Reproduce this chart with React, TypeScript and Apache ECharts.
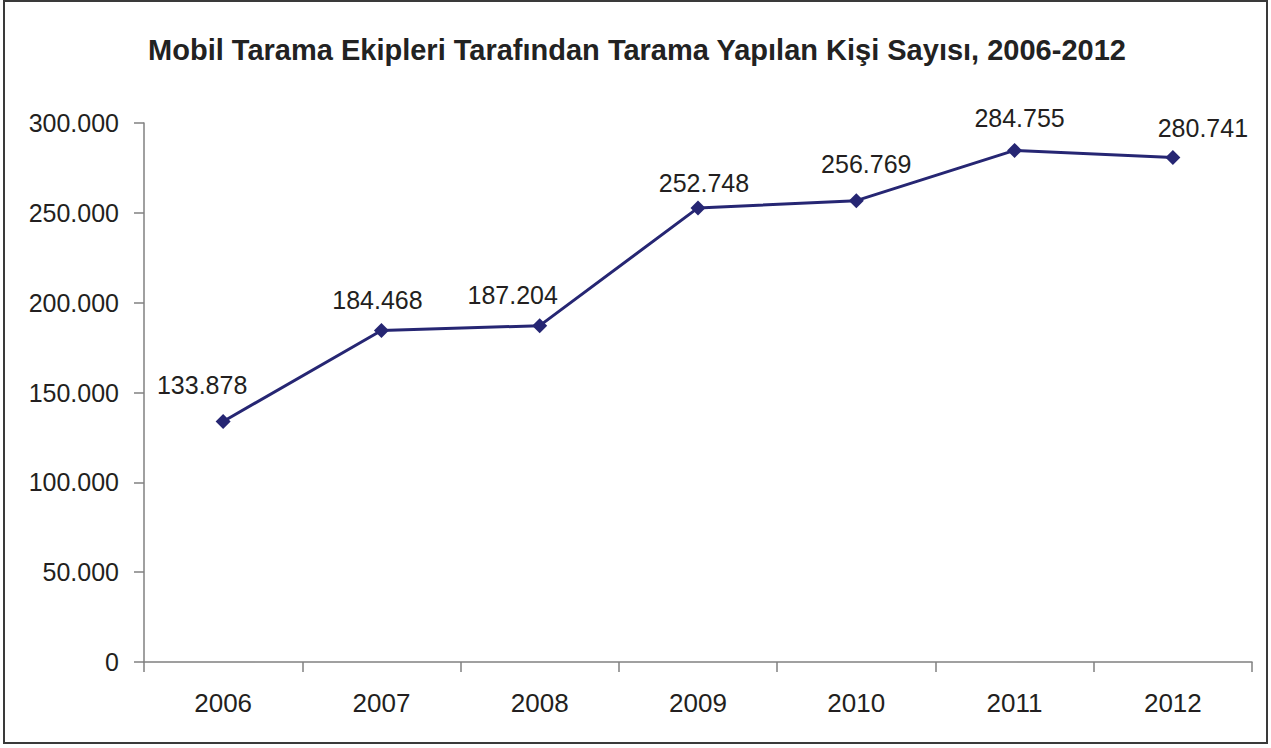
import React, { useEffect, useRef } from "react";
import * as echarts from "echarts";

const titleText = "Mobil Tarama Ekipleri Tarafından Tarama Yapılan Kişi Sayısı, 2006-2012";
const years = ["2006", "2007", "2008", "2009", "2010", "2011", "2012"];
const screened = [133878, 184468, 187204, 252748, 256769, 284755, 280741];
const labelOffsets = [[-21, -5], [-4, 0], [-27, 0], [6, 6], [10, -6], [5, -1], [30, 1]];

const fmt = (v: number) => {
  if (v === 0) return "0";
  return String(Math.round(v)).replace(/\B(?=(\d{3})+(?!\d))/g, ".");
};

export default function App() {
  const ref = useRef<HTMLDivElement>(null);
  useEffect(() => {
    const chart = echarts.init(ref.current!, null, { renderer: "svg" });
    chart.setOption({
      animation: false,
      backgroundColor: "#ffffff",
      textStyle: { fontFamily: "Liberation Sans, Arial, sans-serif" },
      title: {
        text: titleText,
        left: 632,
        textAlign: "center",
        top: 30,
        textStyle: { fontSize: 29, fontWeight: "bold", color: "#222222", fontFamily: "Liberation Sans, Arial, sans-serif" },
      },
      graphic: [
        {
          type: "rect",
          shape: { x: 4, y: 1, width: 1263, height: 742 },
          style: { fill: "none", stroke: "#3a3a3a", lineWidth: 2 },
          silent: true,
        },
      ],
      grid: { left: 144, right: 19, top: 123, bottom: 86, containLabel: false },
      xAxis: {
        type: "category",
        data: years,
        boundaryGap: true,
        axisLine: { lineStyle: { color: "#808080", width: 1.5 } },
        axisTick: { show: true, length: 10, inside: false, lineStyle: { color: "#808080", width: 1.5 } },
        axisLabel: { fontSize: 26, color: "#231f20", margin: 28 },
        splitLine: { show: false },
      },
      yAxis: {
        type: "value",
        min: 0,
        max: 300000,
        interval: 50000,
        axisLine: { show: true, lineStyle: { color: "#808080", width: 1.5 } },
        axisTick: { show: true, length: 10, lineStyle: { color: "#808080", width: 1.5 } },
        axisLabel: { fontSize: 25, color: "#231f20", margin: 25, formatter: (v: number) => fmt(v) },
        splitLine: { show: false },
      },
      series: [
        {
          type: "line",
          data: screened.map((v, i) => ({
            value: v,
            label: { offset: labelOffsets[i] },
          })),
          symbol: "diamond",
          symbolSize: 15,
          lineStyle: { color: "#262673", width: 3 },
          itemStyle: { color: "#262673" },
          label: {
            show: true,
            position: "top",
            distance: 11,
            fontSize: 25,
            color: "#231f20",
            formatter: (p: any) => fmt(p.value),
          },
        },
      ],
    });
    return () => chart.dispose();
  }, []);
  return (
    <div
      ref={ref}
      style={{ position: "absolute", left: 0, top: 0, width: 1271, height: 748 }}
    />
  );
}
